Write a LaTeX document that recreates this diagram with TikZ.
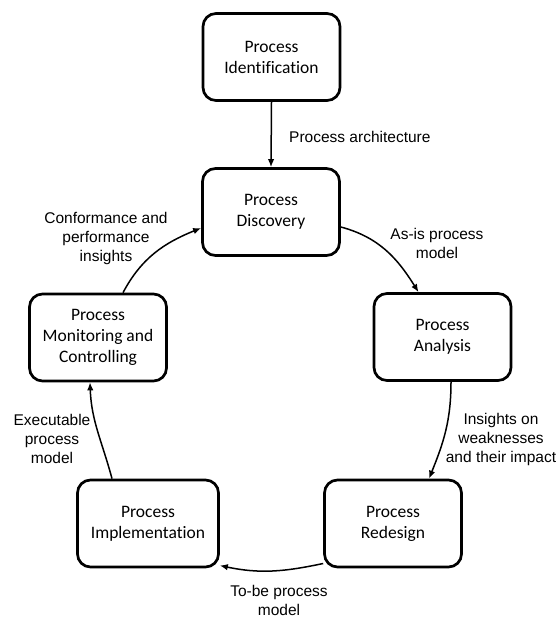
\documentclass[tikz,border=0pt]{standalone}
\usepackage{fontspec}
\setmainfont{Liberation Sans}
\newfontfamily\boxfont[Ligatures=NoCommon]{Carlito}
\usetikzlibrary{arrows.meta}
\begin{document}
\begin{tikzpicture}[x=1pt,y=-1pt,
  stage/.style={draw, line width=2.7pt, rounded corners=13pt,
    minimum width=137pt, minimum height=87pt, align=center, inner sep=2pt,
    font=\boxfont\fontsize{17.5}{21}\selectfont},
  flow/.style={line width=1.5pt, -{Latex[length=8pt,width=6.5pt]}},
  lbl/.style={align=center, inner sep=0pt, font=\fontsize{15.5}{19}\selectfont}]
\useasboundingbox (0,0) rectangle (556,617);

% the six phases of the lifecycle
\node[stage] (ident) at (271.5,57)  {Process\\Identification};
\node[stage] (disc)  at (271,212)   {Process\\Discovery};
\node[stage] (ana)   at (442.5,337) {Process\\Analysis};
\node[stage] (mon)   at (98,337.5)  {Process\\Monitoring and\\Controlling};
\node[stage, minimum width=141pt] (impl) at (148,523.5) {Process\\Implementation};
\node[stage] (red)   at (393,523.5) {Process\\Redesign};

% connectors between phases
\draw[flow] (ident.south) -- (disc.north);
\draw[flow] ([yshift=-15pt]disc.east) to[out=-15,in=122] ([xshift=-24pt]ana.north);
\draw[flow] ([xshift=8.5pt]ana.south) to[out=-90,in=68] ([xshift=36pt]red.north);
\draw[flow] ([yshift=-40pt]red.west) to[out=-168,in=-12] ([yshift=-42pt]impl.east);
\draw[flow] ([xshift=-36pt]impl.north) to[out=105,in=-88] ([xshift=-8pt]mon.south);
\draw[flow] ([xshift=25pt]mon.north) to[out=62,in=-158] ([yshift=-16pt]disc.west);

% outputs passed between phases
\node[lbl, anchor=west] (l1) at (289,137) {Process architecture};
\node[lbl] (l2) at (437,243) {As-is process\\model};
\node[lbl] (l3) at (501,439) {Insights on\\weaknesses\\and their impact};
\node[lbl] (l4) at (279,600) {To-be process\\model};
\node[lbl] (l5) at (52,439)  {Executable\\process\\model};
\node[lbl] (l6) at (106,238) {Conformance and\\performance\\insights};
\end{tikzpicture}
\end{document}
